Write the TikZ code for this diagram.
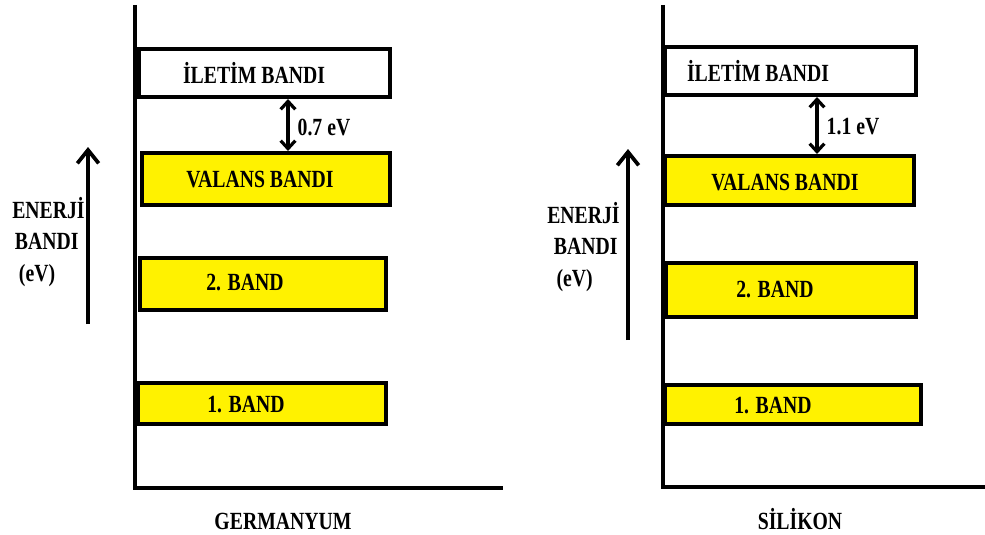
\documentclass[tikz,border=0pt]{standalone}
\usepackage{fontspec}
\setmainfont{Liberation Serif}[FakeStretch=0.8]
\usetikzlibrary{arrows.meta}

\definecolor{bandyellow}{RGB}{255,242,0}

\tikzset{
  band/.style={draw=black, line width=3pt, rectangle, inner sep=0pt},
  lbl/.style={font=\bfseries\fontsize{18.5}{23.6}\selectfont, inner sep=0pt},
  axisline/.style={line width=3.2pt},
  energyarrow/.style={line width=2.8pt, -{Straight Barb[length=10pt,width=16pt,line width=2.8pt]}},
  gaparrow/.style={line width=2.6pt, {Straight Barb[length=6pt,width=11pt,line width=2.4pt]}-{Straight Barb[length=6pt,width=11pt,line width=2.4pt]}}
}

\begin{document}
\begin{tikzpicture}[x=0.75pt,y=0.75pt,yscale=-1,xscale=1]
\useasboundingbox (0,0) rectangle (985,535);

%% ---------- GERMANYUM ----------
%Axes
\coordinate (gTop) at (135,5);
\coordinate (gOrigin) at (135,488);
\coordinate (gEnd) at (503,488);
\draw [axisline] (gTop) -- (gOrigin) -- (gEnd);

%Shape: Rectangle (bands)
\node [band, fill=white, minimum width=188.25pt, minimum height=36pt] (gIletim) at (264.5,73) {};
\node [band, fill=bandyellow, minimum width=186pt, minimum height=39pt] (gValans) at (266,179) {};
\node [band, fill=bandyellow, minimum width=184.5pt, minimum height=39pt] (gIki) at (263,284) {};
\node [band, fill=bandyellow, minimum width=186pt, minimum height=30.75pt] (gBir) at (262,403.5) {};

% Text Node
\node [lbl] (gIletimLbl) at (254,73) {İLETİM BANDI};
% Text Node
\node [lbl] (gValansLbl) at (260,180) {VALANS BANDI};
% Text Node
\node [lbl] (gIkiLbl) at (245,283) {2. BAND};
% Text Node
\node [lbl] (gBirLbl) at (246,405) {1. BAND};

%Straight Lines (gap)
\coordinate (gGapX) at (288,0);
\draw [gaparrow] (gIletim.south -| gGapX) -- (gValans.north -| gGapX);
% Text Node
\node [lbl] (gGapLbl) at (324,127) {0.7 eV};

%Straight Lines (energy)
\coordinate (gEbot) at (88,324);
\coordinate (gEtop) at (88,147);
\draw [energyarrow] (gEbot) -- (gEtop);
% Text Node
\node [lbl, anchor=west, align=left] (gEnerji) at (12,242) {ENERJİ\\\hspace*{2pt}BANDI\\\hspace*{5pt}(eV)};

% Text Node
\node [lbl] (gName) at (283,521) {GERMANYUM};

%% ---------- SILIKON ----------
%Axes
\coordinate (sTop) at (663,5);
\coordinate (sOrigin) at (663,487);
\coordinate (sEnd) at (985,487);
\draw [axisline] (sTop) -- (sOrigin) -- (sEnd);

%Shape: Rectangle (bands)
\node [band, fill=white, minimum width=188.25pt, minimum height=36pt] (sIletim) at (790.5,71) {};
\node [band, fill=bandyellow, minimum width=186.75pt, minimum height=36.75pt] (sValans) at (789.5,180.5) {};
\node [band, fill=bandyellow, minimum width=187.5pt, minimum height=40.5pt] (sIki) at (791,290) {};
\node [band, fill=bandyellow, minimum width=192pt, minimum height=29.25pt] (sBir) at (793,404.5) {};

% Text Node
\node [lbl] (sIletimLbl) at (758,71) {İLETİM BANDI};
% Text Node
\node [lbl] (sValansLbl) at (785,183) {VALANS BANDI};
% Text Node
\node [lbl] (sIkiLbl) at (775,290) {2. BAND};
% Text Node
\node [lbl] (sBirLbl) at (773,406) {1. BAND};

%Straight Lines (gap)
\coordinate (sGapX) at (817,0);
\draw [gaparrow] (sIletim.south -| sGapX) -- (sValans.north -| sGapX);
% Text Node
\node [lbl] (sGapLbl) at (853,127) {1.1 eV};

%Straight Lines (energy)
\coordinate (sEbot) at (628,340);
\coordinate (sEtop) at (628,149);
\draw [energyarrow] (sEbot) -- (sEtop);
% Text Node
\node [lbl, anchor=west, align=left] (sEnerji) at (547,247) {ENERJİ\\\hspace*{5pt}BANDI\\\hspace*{7pt}(eV)};

% Text Node
\node [lbl] (sName) at (800,519) {SİLİKON};

\end{tikzpicture}
\end{document}
